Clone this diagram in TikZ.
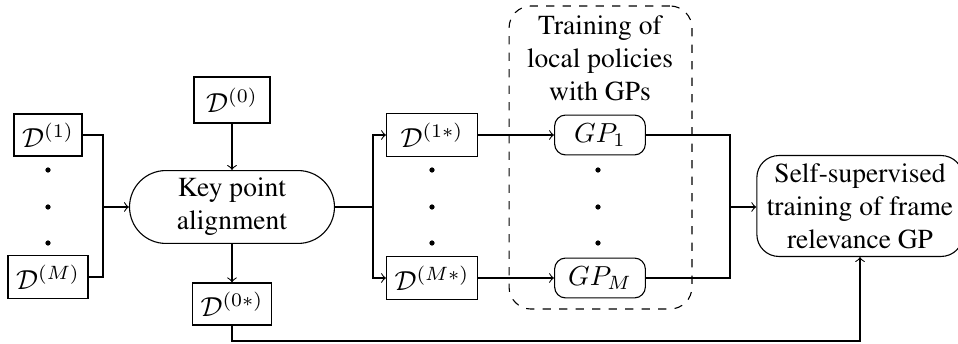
\documentclass[tikz,border=0pt]{standalone}
\usepackage[T1]{fontenc}
\usepackage{times}
\begin{document}
\begin{tikzpicture}[x=0.3636pt,y=-0.3636pt,
  box/.style={draw,rectangle,inner sep=0pt,minimum width=#1},
  box/.default=24.7pt,
  gpbox/.style={draw,rectangle,rounded corners=4pt,inner sep=0pt,minimum width=33pt,minimum height=14.5pt},
  dotn/.style={circle,fill,inner sep=0pt,minimum size=1.9pt},
  >=to]
\useasboundingbox (0,0) rectangle (958,344);
% left data
\node[box=24.7pt,minimum height=15.3pt] (d1) at (48,135) {$\mathcal{D}^{(1)}$};
\node[box=29.1pt,minimum height=15.6pt] (dM) at (48,277) {$\mathcal{D}^{(M)}$};
\node[dotn] (ld1) at (48,170) {};
\node[dotn] (ld2) at (48,207) {};
\node[dotn] (ld3) at (48,243) {};
% key point alignment
\node[box=27.6pt,minimum height=16.7pt] (d0) at (232,100) {$\mathcal{D}^{(0)}$};
\node[draw,rectangle,rounded corners=13.2pt,minimum width=74.5pt,minimum height=26.5pt,inner sep=0pt,align=center] (kpa) at (232,207) {Key point\\alignment};
\node[box=28.7pt,minimum height=15.3pt] (d0s) at (232,304) {$\mathcal{D}^{(0*)}$};
% aligned data
\node[box=33pt,minimum height=15.6pt] (d1s) at (432,135) {$\mathcal{D}^{(1*)}$};
\node[box=33pt,minimum height=15.6pt] (dMs) at (432,278) {$\mathcal{D}^{(M*)}$};
\node[dotn] (md1) at (432,170) {};
\node[dotn] (md2) at (432,207) {};
\node[dotn] (md3) at (432,243) {};
% GP group
\node[draw,dashed,rectangle,rounded corners=8pt,minimum width=66.5pt,minimum height=110.2pt,inner sep=0pt] (grp) at (600.5,157.5) {};
\node[align=center,inner sep=0pt] (title) at (600,58) {Training of\\local policies\\with GPs};
\node[gpbox] (gp1) at (600,135) {$GP_1$};
\node[gpbox] (gpM) at (600,278) {$GP_M$};
\node[dotn] (gd1) at (598,170) {};
\node[dotn] (gd2) at (598,207) {};
\node[dotn] (gd3) at (598,243) {};
% frame relevance
\node[draw,rectangle,rounded corners=8pt,minimum width=75pt,minimum height=36.7pt,inner sep=0pt,align=center] (ss) at (860,206) {Self-supervised\\training of frame\\relevance GP};
% junctions
\coordinate (j1) at (103,207);
\coordinate (j2) at (373,207);
\coordinate (j3) at (730,207);
\coordinate (b) at (860,341);
% connectors
\draw (d1.east) -| (j1);
\draw (dM.east) -| (j1);
\draw[->] (j1) -- (kpa.west);
\draw[->] (d0.south) -- (kpa.north);
\draw[->] (kpa.south) -- (d0s.north);
\draw (kpa.east) -- (j2);
\draw[->] (j2) |- (d1s.west);
\draw[->] (j2) |- (dMs.west);
\draw[->] (d1s.east) -- (gp1.west);
\draw[->] (dMs.east) -- (gpM.west);
\draw (gp1.east) -| (j3);
\draw (gpM.east) -| (j3);
\draw[->] (j3) -- (j3 -| ss.west);
\draw[->] (d0s.south) |- (b) -- (ss.south);
\end{tikzpicture}
\end{document}
